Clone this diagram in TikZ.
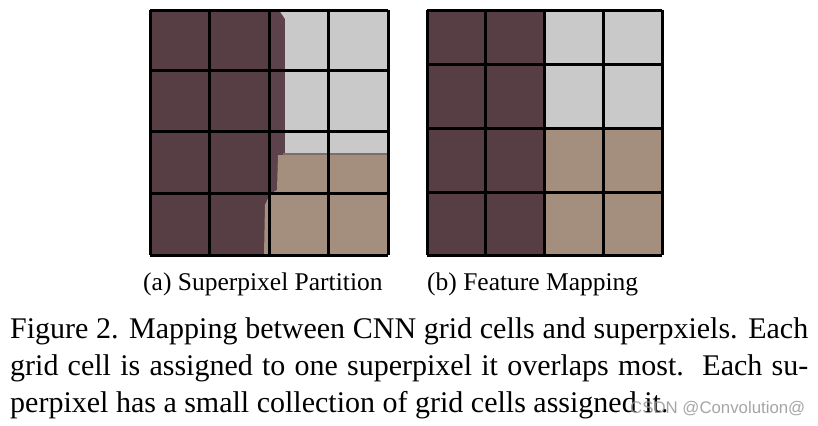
\documentclass[tikz,border=0pt]{standalone}
\usepackage{fontspec}
\setmainfont{Liberation Serif}
\newfontfamily\wmfont{Liberation Sans}
\definecolor{spdark}{RGB}{87,62,69}
\definecolor{spdarkb}{RGB}{92,66,74}
\definecolor{spgray}{RGB}{201,201,201}
\definecolor{sptan}{RGB}{164,143,127}
\definecolor{spedge}{RGB}{125,110,104}
\definecolor{wmgray}{RGB}{150,150,150}
\tikzset{
  gridline/.style={draw=black, line width=3bp},
  subcap/.style={inner sep=0pt, anchor=base west, font=\fontsize{25.5bp}{30bp}\selectfont},
  capline/.style={inner sep=0pt, anchor=base west, font=\fontsize{30bp}{37bp}\selectfont},
}
\begin{document}
\begin{tikzpicture}[x=1bp,y=-1bp]
\fill[white] (0,0) rectangle (818,425);
\useasboundingbox (0,0) rectangle (818,425);

% ---------- (a) superpixel partition image ----------
\fill[spdark] (150,10) rectangle (388,255);
\fill[spdarkb] (268,10) rectangle (286,193);
\fill[spgray] (279,10) -- (388,10) -- (388,155) -- (285,155) -- (285,19) -- cycle;
\fill[sptan] (278,155) -- (388,155) -- (388,255) -- (264,255) -- (265,205) -- (270,194) -- (277,190) -- cycle;
\draw[spedge, line width=2.5bp] (283,154) -- (388,154);
% grid
\foreach \x in {150,209.5,269,328.5,388} \draw[gridline] (\x,10) -- (\x,255);
\foreach \y in {10,70,131,193,255} \draw[gridline] (150,\y) -- (388,\y);

% ---------- (b) feature mapping ----------
\fill[spdark] (427,10) rectangle (544,255);
\fill[spgray] (544,10) rectangle (662,128);
\fill[sptan] (544,128) rectangle (662,255);
\foreach \x in {427,485,544,603,662} \draw[gridline] (\x,10) -- (\x,255);
\foreach \y in {10,64,128,192,255} \draw[gridline] (427,\y) -- (662,\y);

% ---------- sub-captions ----------
\node[subcap] (capa) at (143,290) {(a) Superpixel Partition};
\node[subcap] (capb) at (427,290) {(b) Feature Mapping};

% ---------- figure caption ----------
\node[capline] (l1) at (10,338) {\makebox[798bp][s]{Figure 2. Mapping between CNN grid cells and superpxiels. Each}};
\node[capline] (l2) at (10,375) {\makebox[798bp][s]{grid cell is assigned to one superpixel it overlaps most.\ \ Each su-}};
\node[capline] (l3) at (10,412) {perpixel has a small collection of grid cells assigned it.};

% ---------- watermark ----------
\node[inner sep=0pt, anchor=base west, text=wmgray, opacity=0.85, font=\wmfont\fontsize{16.8bp}{20bp}\selectfont] (wm) at (630,413) {CSDN @Convolution@};
\end{tikzpicture}
\end{document}
